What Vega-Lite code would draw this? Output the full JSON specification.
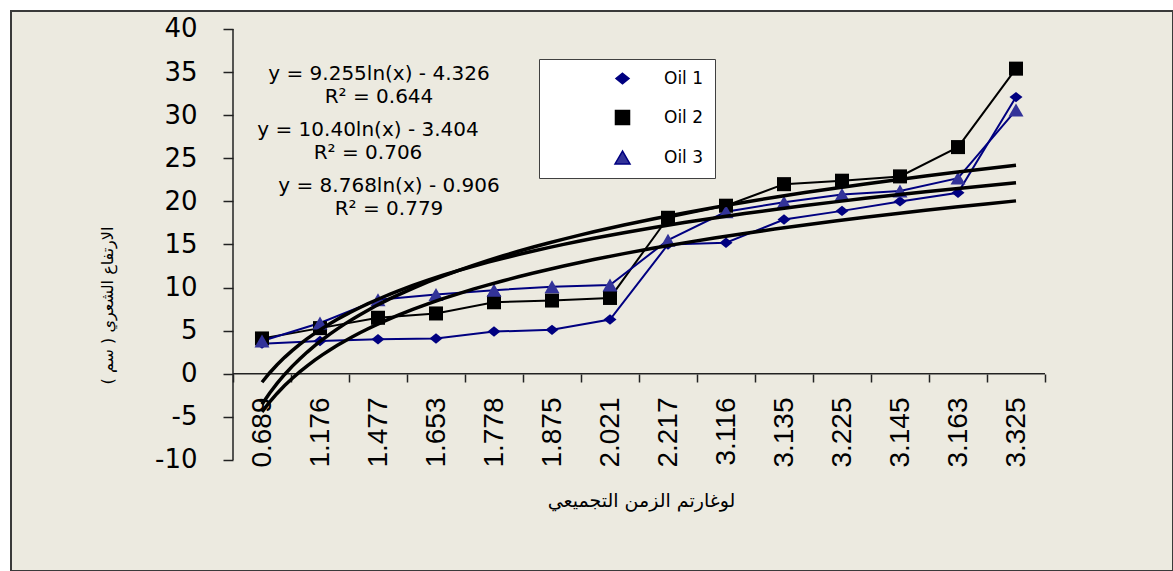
{
  "$schema": "https://vega.github.io/schema/vega-lite/v6.json",
  "width": 1162,
  "height": 560,
  "autosize": {"type": "none"},
  "padding": {"left": 11, "top": 11, "right": 0, "bottom": 0},
  "background": "#ffffff",
  "config": {
    "view": {"fill": "#ECEAE0", "stroke": "#3a3a3a", "strokeWidth": 2},
    "axis": {"grid": false, "domain": false, "tickColor": "#222222", "tickWidth": 1.5, "labelColor": "#000000", "titleColor": "#000000"}
  },
  "data": {
    "values": [
      {"series": "Oil 1", "idx": 1, "t": "0.689", "value": 3.5},
      {"series": "Oil 1", "idx": 2, "t": "1.176", "value": 3.8},
      {"series": "Oil 1", "idx": 3, "t": "1.477", "value": 4.0},
      {"series": "Oil 1", "idx": 4, "t": "1.653", "value": 4.1},
      {"series": "Oil 1", "idx": 5, "t": "1.778", "value": 4.9},
      {"series": "Oil 1", "idx": 6, "t": "1.875", "value": 5.1},
      {"series": "Oil 1", "idx": 7, "t": "2.021", "value": 6.3},
      {"series": "Oil 1", "idx": 8, "t": "2.217", "value": 15.0},
      {"series": "Oil 1", "idx": 9, "t": "3.116", "value": 15.2},
      {"series": "Oil 1", "idx": 10, "t": "3.135", "value": 17.9},
      {"series": "Oil 1", "idx": 11, "t": "3.225", "value": 18.9},
      {"series": "Oil 1", "idx": 12, "t": "3.145", "value": 20.0},
      {"series": "Oil 1", "idx": 13, "t": "3.163", "value": 21.0},
      {"series": "Oil 1", "idx": 14, "t": "3.325", "value": 32.1},
      {"series": "Oil 2", "idx": 1, "t": "0.689", "value": 4.1},
      {"series": "Oil 2", "idx": 2, "t": "1.176", "value": 5.3},
      {"series": "Oil 2", "idx": 3, "t": "1.477", "value": 6.5},
      {"series": "Oil 2", "idx": 4, "t": "1.653", "value": 7.0},
      {"series": "Oil 2", "idx": 5, "t": "1.778", "value": 8.3},
      {"series": "Oil 2", "idx": 6, "t": "1.875", "value": 8.5},
      {"series": "Oil 2", "idx": 7, "t": "2.021", "value": 8.8},
      {"series": "Oil 2", "idx": 8, "t": "2.217", "value": 18.1},
      {"series": "Oil 2", "idx": 9, "t": "3.116", "value": 19.5},
      {"series": "Oil 2", "idx": 10, "t": "3.135", "value": 22.0},
      {"series": "Oil 2", "idx": 11, "t": "3.225", "value": 22.4},
      {"series": "Oil 2", "idx": 12, "t": "3.145", "value": 22.9},
      {"series": "Oil 2", "idx": 13, "t": "3.163", "value": 26.3},
      {"series": "Oil 2", "idx": 14, "t": "3.325", "value": 35.4},
      {"series": "Oil 3", "idx": 1, "t": "0.689", "value": 3.8},
      {"series": "Oil 3", "idx": 2, "t": "1.176", "value": 5.9},
      {"series": "Oil 3", "idx": 3, "t": "1.477", "value": 8.6},
      {"series": "Oil 3", "idx": 4, "t": "1.653", "value": 9.2},
      {"series": "Oil 3", "idx": 5, "t": "1.778", "value": 9.7},
      {"series": "Oil 3", "idx": 6, "t": "1.875", "value": 10.1},
      {"series": "Oil 3", "idx": 7, "t": "2.021", "value": 10.3},
      {"series": "Oil 3", "idx": 8, "t": "2.217", "value": 15.5},
      {"series": "Oil 3", "idx": 9, "t": "3.116", "value": 18.8},
      {"series": "Oil 3", "idx": 10, "t": "3.135", "value": 19.9},
      {"series": "Oil 3", "idx": 11, "t": "3.225", "value": 20.8},
      {"series": "Oil 3", "idx": 12, "t": "3.145", "value": 21.2},
      {"series": "Oil 3", "idx": 13, "t": "3.163", "value": 22.7},
      {"series": "Oil 3", "idx": 14, "t": "3.325", "value": 30.6}
    ]
  },
  "layer": [
    {
      "transform": [{"filter": "datum.idx === 1 && datum.series === 'Oil 1'"}],
      "mark": {"type": "rule", "color": "#222222", "strokeWidth": 1.5},
      "encoding": {
        "x": {"datum": 0.5, "type": "quantitative"},
        "x2": {"datum": 14.5},
        "y": {"datum": 0, "type": "quantitative"}
      }
    },
    {
      "transform": [{"filter": "datum.idx === 1 && datum.series === 'Oil 1'"}],
      "mark": {"type": "rule", "color": "#222222", "strokeWidth": 1.5},
      "encoding": {
        "x": {"datum": 0.5, "type": "quantitative"},
        "y": {"datum": -10, "type": "quantitative"},
        "y2": {"datum": 40}
      }
    },
    {
      "mark": {"type": "line", "strokeWidth": 2},
      "encoding": {
        "x": {
          "field": "idx",
          "type": "quantitative",
          "scale": {"domain": [-3.3276, 16.7069], "nice": false, "zero": false},
          "axis": {
            "values": [0.5, 1.5, 2.5, 3.5, 4.5, 5.5, 6.5, 7.5, 8.5, 9.5, 10.5, 11.5, 12.5, 13.5, 14.5],
            "labelExpr": "datum.value < 14 ? ['0.689','1.176','1.477','1.653','1.778','1.875','2.021','2.217','3.116','3.135','3.225','3.145','3.163','3.325'][floor(datum.value)] : ''",
            "offset": -197,
            "tickSize": 8,
            "labelAngle": -90,
            "labelAlign": "right",
            "labelBaseline": "middle",
            "labelOffset": 29,
            "labelPadding": 15,
            "labelFont": "Liberation Sans Narrow, Liberation Sans",
            "labelFontSize": 28,
            "labelFlush": false,
            "labelOverlap": false,
            "title": "لوغارتم الزمن التجميعي",
            "titleFont": "DejaVu Sans",
            "titleFontSize": 19,
            "titleFontWeight": "normal",
            "titleX": 630,
            "titleY": 126,
            "titleAlign": "center",
            "titleBaseline": "middle"
          }
        },
        "y": {
          "field": "value",
          "type": "quantitative",
          "scale": {"domain": [-22.877, 42.088], "nice": false, "zero": false},
          "axis": {
            "values": [-10, -5, 0, 5, 10, 15, 20, 25, 30, 35, 40],
            "labelExpr": "toString(datum.value)",
            "offset": -222,
            "tickSize": 10,
            "labelPadding": 26,
            "labelFont": "DejaVu Sans",
            "labelFontSize": 26,
            "labelFlush": false,
            "labelOverlap": false,
            "title": "الارتفاع الشعري ( سم )",
            "titleFont": "DejaVu Sans",
            "titleFontSize": 16,
            "titleFontWeight": "normal",
            "titleAngle": -90,
            "titleX": -126,
            "titleY": 294,
            "titleAlign": "center",
            "titleBaseline": "middle"
          }
        },
        "stroke": {
          "field": "series",
          "type": "nominal",
          "scale": {"domain": ["Oil 1", "Oil 2", "Oil 3"], "range": ["#000080", "#000000", "#000080"]}
        }
      }
    },
    {
      "mark": {"type": "point", "filled": true, "opacity": 1, "strokeWidth": 0},
      "encoding": {
        "x": {"field": "idx", "type": "quantitative"},
        "y": {"field": "value", "type": "quantitative"},
        "fill": {
          "field": "series",
          "type": "nominal",
          "scale": {"domain": ["Oil 1", "Oil 2", "Oil 3"], "range": ["#000080", "#000000", "#333399"]},
          "legend": {
            "title": null,
            "orient": "none",
            "legendX": 528,
            "legendY": 48,
            "fillColor": "#ffffff",
            "strokeColor": "#404040",
            "padding": 11,
            "rowPadding": 20,
            "labelFont": "DejaVu Sans",
            "labelFontSize": 17,
            "labelColor": "#000000",
            "symbolOffset": 64,
            "labelOffset": 33
          }
        },
        "shape": {
          "field": "series",
          "type": "nominal",
          "scale": {"domain": ["Oil 1", "Oil 2", "Oil 3"], "range": ["M0,-0.8L1,0L0,0.8L-1,0Z", "square", "triangle-up"]}
        },
        "size": {
          "field": "series",
          "type": "ordinal",
          "scale": {"domain": ["Oil 1", "Oil 2", "Oil 3"], "range": [169, 225, 196]}
        }
      }
    },
    {
      "transform": [
        {"regression": "value", "on": "idx", "groupby": ["series"], "method": "log", "extent": [1, 14]}
      ],
      "mark": {"type": "line", "color": "#000000", "strokeWidth": 3.5},
      "encoding": {
        "x": {"field": "idx", "type": "quantitative"},
        "y": {"field": "value", "type": "quantitative"},
        "detail": {"field": "series"}
      }
    },
    {
      "transform": [{"filter": "datum.idx === 1 && datum.series === 'Oil 1'"}],
      "mark": {"type": "text", "font": "DejaVu Sans", "fontSize": 20, "align": "center", "baseline": "alphabetic", "lineHeight": 23, "color": "#000000"},
      "encoding": {
        "x": {"datum": 3.017, "type": "quantitative"},
        "y": {"datum": 34.11, "type": "quantitative"},
        "text": {"value": ["y = 9.255ln(x) - 4.326", "R² = 0.644"]}
      }
    },
    {
      "transform": [{"filter": "datum.idx === 1 && datum.series === 'Oil 2'"}],
      "mark": {"type": "text", "font": "DejaVu Sans", "fontSize": 20, "align": "center", "baseline": "alphabetic", "lineHeight": 23, "color": "#000000"},
      "encoding": {
        "x": {"datum": 2.828, "type": "quantitative"},
        "y": {"datum": 27.61, "type": "quantitative"},
        "text": {"value": ["y = 10.40ln(x) - 3.404", "R² = 0.706"]}
      }
    },
    {
      "transform": [{"filter": "datum.idx === 1 && datum.series === 'Oil 3'"}],
      "mark": {"type": "text", "font": "DejaVu Sans", "fontSize": 20, "align": "center", "baseline": "alphabetic", "lineHeight": 23, "color": "#000000"},
      "encoding": {
        "x": {"datum": 3.19, "type": "quantitative"},
        "y": {"datum": 21.11, "type": "quantitative"},
        "text": {"value": ["y = 8.768ln(x) - 0.906", "R² = 0.779"]}
      }
    }
  ]
}
